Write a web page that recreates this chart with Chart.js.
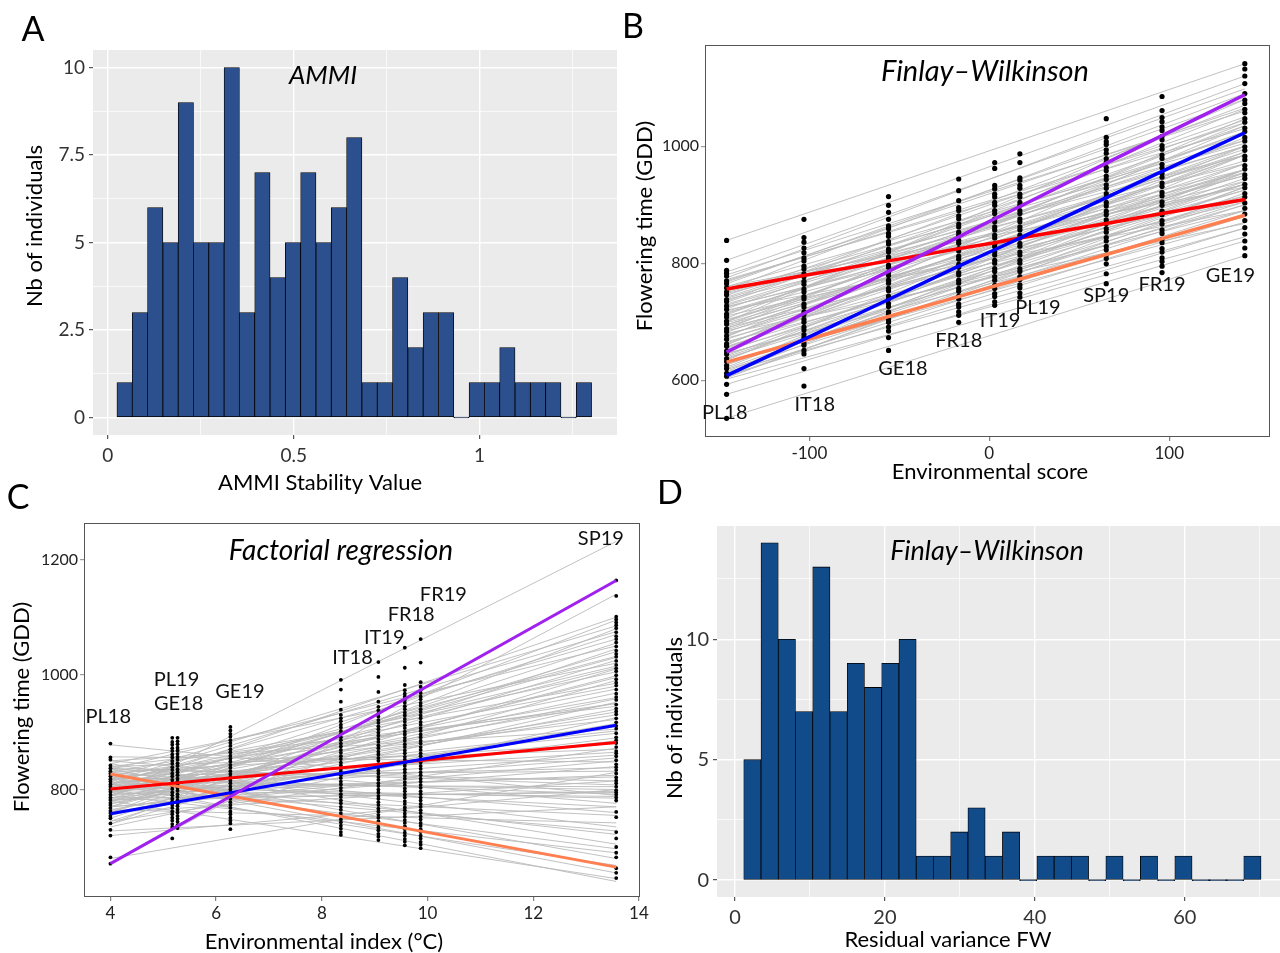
<!DOCTYPE html>
<html>
<head>
<meta charset="utf-8">
<script src="https://cdn.jsdelivr.net/npm/chart.js@4.4.1/dist/chart.umd.min.js"></script>
<style>
  html, body { margin: 0; padding: 0; background: #fff; }
  body { width: 1280px; height: 953px; position: relative; overflow: hidden; }
  canvas { position: absolute; }
</style>
</head>
<body>
<canvas id="chartA" width="620" height="500" style="left:0;top:0"></canvas>
<canvas id="chartB" width="660" height="490" style="left:620px;top:0"></canvas>
<canvas id="chartC" width="660" height="473" style="left:0;top:480px"></canvas>
<canvas id="chartD" width="640" height="473" style="left:640px;top:480px"></canvas>
<script>
// ---- A: AMMI stability histogram
const ammiBins = [0.045, 0.0862, 0.1274, 0.1686, 0.2098, 0.251, 0.2922, 0.3334, 0.3746, 0.4158, 0.457, 0.4982, 0.5394, 0.5806, 0.6218, 0.663, 0.7042, 0.7454, 0.7866, 0.8278, 0.869, 0.9102, 0.9514, 0.9926, 1.0338, 1.075, 1.1162, 1.1574, 1.1986, 1.2398, 1.281];
const ammiCounts = [1, 3, 6, 5, 9, 5, 5, 10, 3, 7, 4, 5, 7, 5, 6, 8, 1, 1, 4, 2, 3, 3, 0, 1, 1, 2, 1, 1, 1, 0, 1];
const ammiXTicks = [0, 0.25, 0.5, 0.75, 1, 1.25];
const ammiXLabels = ["0", "", "0.5", "", "1", ""];
const ammiYTicks = [0, 1.25, 2.5, 3.75, 5, 6.25, 7.5, 8.75, 10];
const ammiYLabels = ["0", "", "2.5", "", "5", "", "7.5", "", "10"];

// ---- B: Finlay-Wilkinson reaction norms
const envNamesB = ["PL18", "IT18", "GE18", "FR18", "IT19", "PL19", "SP19", "FR19", "GE19"];
const envScoreB = [-146, -103, -56, -17, 3, 17, 65, 96, 142];
const fwLabelX = [-147, -97, -48, -17, 6, 27, 65, 96, 134];
const fwLabelY = [544, 559, 620, 668, 702, 725, 745, 764, 779];
const fwStart = [839, 805, 785, 780, 775, 770, 765, 760, 755, 750, 745, 742, 738, 735, 730, 726, 722, 718, 714, 710, 706, 702, 698, 694, 690, 686, 682, 678, 674, 670, 666, 662, 658, 654, 650, 646, 642, 638, 634, 630, 626, 622, 618, 614, 610, 606, 602, 593, 576, 535, 760, 720, 700, 680, 740, 725, 695, 660, 645, 615,
    772, 768, 752, 748, 733, 728, 716, 712, 704, 700, 692, 688, 684, 676, 672, 664, 656, 652, 640, 636, 628, 620, 612, 608, 604];
const fwEnd = [1141, 1120, 1098, 1060, 1107, 1040, 1080, 1010, 1090, 985, 1050, 1020, 960, 1070, 1000, 940, 1035, 975, 1010, 915, 1063, 990, 950, 1025, 905, 970, 1000, 935, 1047, 960, 890, 985, 925, 1015, 945, 880, 970, 910, 1000, 870, 940, 985, 900, 860, 955, 920, 845, 860, 838, 813, 930, 890, 1080, 868, 1000, 955, 935, 1035, 900, 960,
    1030, 1065, 1005, 970, 1045, 985, 950, 1025, 935, 995, 960, 1040, 925, 985, 910, 955, 990, 915, 935, 960, 905, 930, 890, 880, 930];
const fwObs = [
  [535, 576, 593, 607, 612, 620, 625, 632, 637, 645, 650, 658, 662, 670, 676, 683, 688, 696, 701, 708, 713, 721, 727, 734, 738, 746, 751, 758, 765, 770, 778, 783, 788, 805, 839],
  [590, 620, 645, 651, 660, 664, 673, 678, 686, 691, 699, 704, 712, 717, 725, 730, 739, 743, 751, 756, 764, 769, 777, 782, 790, 795, 804, 809, 818, 826, 836, 844, 875],
  [651, 673, 684, 691, 699, 704, 713, 717, 726, 731, 739, 744, 753, 757, 766, 771, 779, 784, 793, 797, 806, 811, 819, 824, 833, 837, 846, 851, 859, 864, 875, 887, 899, 914],
  [699, 711, 717, 725, 730, 739, 744, 752, 757, 766, 771, 780, 784, 793, 798, 807, 812, 821, 825, 834, 839, 848, 853, 862, 867, 876, 881, 890, 895, 907, 924, 944],
  [728, 734, 743, 748, 757, 762, 771, 777, 786, 791, 800, 805, 814, 819, 828, 833, 843, 848, 857, 862, 871, 876, 885, 890, 899, 904, 913, 918, 927, 933, 962, 972],
  [742, 749, 758, 763, 772, 777, 786, 791, 800, 805, 814, 819, 829, 834, 843, 848, 857, 862, 871, 876, 885, 890, 899, 904, 913, 918, 928, 933, 942, 946, 972, 987],
  [765, 782, 799, 808, 814, 823, 829, 838, 844, 853, 859, 868, 874, 883, 889, 898, 904, 913, 919, 928, 934, 943, 949, 958, 964, 973, 979, 988, 994, 1003, 1008, 1015, 1047],
  [784, 795, 803, 809, 819, 825, 835, 841, 851, 857, 867, 873, 883, 889, 899, 905, 915, 921, 931, 937, 947, 953, 963, 969, 979, 985, 995, 1001, 1011, 1017, 1027, 1033, 1042, 1049, 1061, 1085],
  [813, 826, 838, 850, 861, 873, 884, 894, 903, 913, 919, 929, 935, 945, 951, 961, 967, 977, 983, 993, 999, 1009, 1015, 1025, 1031, 1041, 1047, 1057, 1063, 1073, 1079, 1090, 1107, 1120, 1132, 1141]
];
const fwRed = [756, 779, 804, 825, 835, 843, 868, 885, 909];
const fwBlue = [608, 670, 738, 795, 823, 843, 912, 957, 1023];
const fwPurple = [648, 714, 786, 845, 876, 897, 971, 1018, 1088];
const fwCoral = [631, 668, 709, 743, 761, 773, 815, 842, 882];

// ---- C: factorial regression
const envNamesC = ["PL18", "PL19", "GE18", "GE19", "IT18", "IT19", "FR18", "FR19", "SP19"];
const envIndexC = [4.0, 5.17, 5.27, 6.27, 8.36, 9.07, 9.57, 9.87, 13.57];
const frLabelX = [3.96, 5.25, 5.29, 6.45, 8.58, 9.18, 9.69, 10.3, 13.28];
const frLabelY = [927, 992, 949, 970, 1029, 1065, 1104, 1139, 1237];
const frStart = [787, 671, 800, 760, 820, 740, 790, 810, 770, 835, 750, 780, 800, 760, 845, 790, 815, 770, 740, 830, 800, 785, 810, 755, 840, 775, 795, 820, 765, 850, 805, 780, 830, 745, 812, 790, 857, 770, 825, 800, 760, 838, 815, 785, 878, 805, 830, 795, 820, 845, 810, 790, 835, 800, 820, 780, 810, 728, 720, 680, 745, 735, 815, 800,
    790, 805, 775, 815, 780, 825, 795, 760, 810, 785, 840, 800, 770, 818, 792, 835, 808, 782, 822, 798, 850, 812, 765, 838, 805];
const frEnd = [1232, 1140, 1100, 1095, 1085, 1080, 1070, 1062, 1055, 1050, 1045, 1040, 1032, 1025, 1020, 1012, 1005, 998, 990, 985, 975, 968, 960, 952, 945, 940, 930, 922, 915, 905, 898, 890, 880, 872, 865, 855, 848, 840, 832, 822, 815, 808, 800, 795, 790, 785, 760, 755, 722, 705, 697, 690, 680, 668, 655, 645, 640, 770, 800, 830, 1010, 925, 1075, 950,
    1030, 1015, 995, 980, 958, 950, 935, 910, 902, 885, 870, 860, 850, 838, 825, 815, 805, 797, 792, 788, 776, 770, 742, 735, 728];
const frObs = [
  [671, 682, 720, 730, 741, 750, 754, 759, 763, 768, 773, 777, 782, 786, 791, 796, 800, 805, 809, 814, 818, 823, 828, 832, 837, 842, 852, 856, 880],
  [715, 735, 740, 746, 751, 757, 762, 768, 773, 779, 784, 790, 795, 801, 806, 812, 817, 823, 828, 834, 839, 845, 850, 856, 861, 867, 872, 878, 883, 890],
  [733, 738, 744, 749, 754, 760, 765, 771, 776, 781, 787, 792, 798, 803, 808, 814, 819, 825, 830, 835, 841, 846, 852, 857, 862, 868, 873, 879, 884, 890],
  [731, 741, 746, 751, 757, 762, 768, 773, 778, 784, 789, 795, 800, 805, 811, 816, 822, 827, 832, 838, 843, 849, 854, 859, 865, 870, 876, 881, 886, 892, 897, 903, 909],
  [721, 726, 732, 737, 743, 748, 754, 759, 765, 770, 776, 781, 787, 792, 798, 803, 809, 814, 820, 825, 831, 836, 842, 847, 853, 858, 864, 869, 875, 880, 886, 891, 897, 902, 908, 913, 919, 924, 930, 939, 953, 974, 991],
  [712, 718, 723, 729, 734, 740, 745, 751, 756, 762, 767, 773, 778, 784, 789, 795, 800, 806, 811, 817, 822, 828, 833, 839, 844, 850, 855, 861, 866, 872, 877, 883, 888, 894, 899, 905, 910, 916, 921, 927, 932, 938, 944, 953, 970, 996, 1022],
  [703, 709, 714, 720, 725, 731, 736, 742, 747, 753, 758, 764, 769, 775, 780, 786, 791, 797, 802, 808, 813, 819, 824, 830, 835, 841, 846, 852, 857, 863, 868, 874, 879, 885, 890, 896, 901, 907, 912, 918, 923, 929, 934, 940, 945, 951, 956, 962, 967, 973, 982, 1012, 1047],
  [698, 704, 709, 715, 720, 726, 731, 737, 742, 748, 753, 759, 764, 770, 775, 781, 786, 792, 797, 803, 808, 814, 819, 825, 830, 836, 841, 847, 852, 858, 863, 869, 874, 880, 885, 891, 896, 902, 907, 913, 918, 924, 929, 935, 940, 946, 951, 957, 962, 968, 973, 979, 987, 1021, 1062],
  [646, 655, 663, 682, 690, 700, 715, 726, 752, 761, 781, 786, 791, 795, 799, 805, 811, 816, 821, 828, 834, 839, 844, 851, 858, 863, 867, 874, 881, 886, 891, 898, 906, 911, 917, 924, 931, 936, 941, 948, 956, 961, 967, 974, 981, 986, 992, 999, 1006, 1011, 1017, 1024, 1031, 1036, 1042, 1049, 1056, 1062, 1067, 1074, 1081, 1086, 1091, 1096, 1101, 1137, 1164]
];
const frEndsX = [4.0, 13.57];
const frRed = [801, 882];
const frBlue = [758, 912];
const frPurple = [671, 1164];
const frCoral = [827, 665];

// ---- D: residual variance histogram
const resBins = [2.32, 4.62, 6.92, 9.22, 11.52, 13.82, 16.12, 18.42, 20.72, 23.02, 25.32, 27.62, 29.92, 32.22, 34.52, 36.82, 39.12, 41.42, 43.72, 46.02, 48.32, 50.62, 52.92, 55.22, 57.52, 59.82, 62.12, 64.42, 66.72, 69.02];
const resCounts = [5, 14, 10, 7, 13, 7, 9, 8, 9, 10, 1, 1, 2, 3, 1, 2, 0, 1, 1, 1, 0, 1, 0, 1, 0, 1, 0, 0, 0, 1];
const resXTicks = [0, 10, 20, 30, 40, 50, 60, 70];
const resXLabels = ["0", "", "20", "", "40", "", "60", ""];
const resYTicks = [0, 2.5, 5, 7.5, 10, 12.5];
const resYLabels = ["0", "", "5", "", "10", ""];

Chart.defaults.font.family = "Lato, 'Open Sans', sans-serif";
Chart.defaults.color = "#333";
Chart.defaults.animation = false;
Chart.defaults.plugins.legend.display = false;
Chart.defaults.plugins.tooltip.enabled = false;

// panel background / frame and free text (letters, titles, env labels)
Chart.register({
    id: "panel",
    beforeDraw(chart, args, opts) {
        const a = chart.chartArea;
        if (opts.fill) {
            chart.ctx.save();
            chart.ctx.fillStyle = opts.fill;
            chart.ctx.fillRect(a.left, a.top, a.right - a.left, a.bottom - a.top);
            chart.ctx.restore();
        }
    },
    afterDraw(chart, args, opts) {
        const ctx = chart.ctx, a = chart.chartArea;
        if (opts.frame) {
            ctx.save();
            ctx.strokeStyle = opts.frame;
            ctx.lineWidth = 1;
            ctx.strokeRect(a.left + 0.5, a.top + 0.5, a.right - a.left - 1, a.bottom - a.top - 1);
            ctx.restore();
        }
        (opts.texts || []).forEach(t => {
            let x = t.x, y = t.y;
            if (t.data) {
                x = chart.scales.x.getPixelForValue(t.x);
                y = chart.scales.y.getPixelForValue(t.y);
            }
            ctx.save();
            ctx.font = t.font;
            ctx.fillStyle = t.color || "#000";
            ctx.textAlign = "center";
            ctx.textBaseline = "middle";
            ctx.translate(x, y);
            if (t.rot) ctx.rotate(t.rot);
            ctx.fillText(t.text, 0, 0);
            ctx.restore();
        });
    }
});

function axis(min, max, values, labels, o) {
    return {
        type: "linear", min: min, max: max, offset: false,
        afterBuildTicks: s => { s.ticks = values.map(v => ({ value: v })); },
        afterFit: s => {
            if (o.width) s.width = o.width;
            if (o.height) s.height = o.height;
        },
        border: { display: false },
        grid: {
            offset: false,
            drawOnChartArea: !!o.gridColor,
            color: o.gridColor || "rgba(0,0,0,0)",
            lineWidth: c => (labels[c.index] !== "" ? 1.4 : 0.7),
            tickLength: 4,
            tickWidth: 1,
            tickColor: c => (labels[c.index] !== "" ? o.tickColor : "rgba(0,0,0,0)")
        },
        ticks: {
            autoSkip: false, maxRotation: 0, minRotation: 0,
            padding: o.pad, color: o.labelColor,
            font: { size: o.fontSize },
            callback: (v, i) => labels[i]
        }
    };
}

const F = "Lato, 'Open Sans', sans-serif";
const UP = -Math.PI / 2;

// ===== A
new Chart(document.getElementById("chartA"), {
    type: "bar",
    data: {
        datasets: [{
            data: ammiBins.map((x, i) => ({ x: x, y: ammiCounts[i] })),
            backgroundColor: "#2C4F8D",
            borderColor: "#000",
            borderWidth: 0.8,
            borderSkipped: false,
            minBarLength: 1,
            barPercentage: 1,
            categoryPercentage: 1
        }]
    },
    options: {
        responsive: false,
        layout: { padding: { top: 50, right: 3, left: 0, bottom: 0 } },
        scales: {
            x: axis(-0.04, 1.37, ammiXTicks, ammiXLabels, { height: 65, gridColor: "#fff", tickColor: "#333", pad: 5, labelColor: "#333", fontSize: 19 }),
            y: axis(-0.5, 10.5, ammiYTicks, ammiYLabels, { width: 93, gridColor: "#fff", tickColor: "#333", pad: 4, labelColor: "#333", fontSize: 19 })
        },
        plugins: {
            panel: {
                fill: "#EBEBEB",
                texts: [
                    { text: "A", x: 33, y: 30, font: "34px " + F },
                    { text: "AMMI", x: 323, y: 76, font: "italic 26px " + F },
                    { text: "Nb of individuals", x: 35, y: 226, rot: UP, font: "22px " + F },
                    { text: "AMMI Stability Value", x: 320, y: 483, font: "22px " + F }
                ]
            }
        }
    }
});

// ===== B
const dsB = [];
[[fwPurple, "#A020F0"], [fwBlue, "#0000FF"], [fwRed, "#FF0000"], [fwCoral, "#FF7F50"]].forEach(([vals, col]) => {
    dsB.push({
        data: vals.map((v, i) => ({ x: envScoreB[i], y: v })),
        showLine: true, borderColor: col, borderWidth: 3.5, pointRadius: 0, order: 0
    });
});
fwObs.forEach((col, j) => {
    dsB.push({
        data: col.map(v => ({ x: envScoreB[j], y: v })),
        pointRadius: 2.6, pointBackgroundColor: "#000", pointBorderWidth: 0, order: 1
    });
});
fwStart.forEach((s, i) => {
    dsB.push({
        data: [{ x: envScoreB[0], y: s }, { x: envScoreB[envScoreB.length - 1], y: fwEnd[i] }],
        showLine: true, borderColor: "#BABABA", borderWidth: 0.9, pointRadius: 0, order: 2
    });
});

new Chart(document.getElementById("chartB"), {
    type: "scatter",
    data: { datasets: dsB },
    options: {
        responsive: false,
        layout: { padding: { top: 45, right: 10, left: 0, bottom: 0 } },
        scales: {
            x: axis(-158, 156, [-100, 0, 100], ["-100", "0", "100"], { height: 53, tickColor: "#666", pad: 2, labelColor: "#222", fontSize: 17 }),
            y: axis(503, 1173, [600, 800, 1000], ["600", "800", "1000"], { width: 85, tickColor: "#888", pad: 2, labelColor: "#222", fontSize: 16 })
        },
        plugins: {
            panel: {
                frame: "#555",
                texts: [
                    { text: "B", x: 13, y: 27, font: "34px " + F },
                    { text: "Finlay–Wilkinson", x: 365, y: 72, font: "italic 29px " + F },
                    { text: "Flowering time (GDD)", x: 25, y: 226, rot: UP, font: "22px " + F },
                    { text: "Environmental score", x: 370, y: 472, font: "22px " + F }
                ].concat(envNamesB.map((n, i) => ({ text: n, x: fwLabelX[i], y: fwLabelY[i], data: true, font: "20px " + F, color: "#111" })))
            }
        }
    }
});

// ===== C
const dsC = [];
[[frPurple, "#A020F0"], [frBlue, "#0000FF"], [frRed, "#FF0000"], [frCoral, "#FF7F50"]].forEach(([vals, col]) => {
    dsC.push({
        data: vals.map((v, i) => ({ x: frEndsX[i], y: v })),
        showLine: true, borderColor: col, borderWidth: 3, pointRadius: 0, order: 0
    });
});
frObs.forEach((col, j) => {
    dsC.push({
        data: col.map(v => ({ x: envIndexC[j], y: v })),
        pointRadius: 1.9, pointBackgroundColor: "#000", pointBorderWidth: 0, order: 1
    });
});
frStart.forEach((s, i) => {
    dsC.push({
        data: [{ x: frEndsX[0], y: s }, { x: frEndsX[1], y: frEnd[i] }],
        showLine: true, borderColor: "#BABABA", borderWidth: 0.9, pointRadius: 0, order: 2
    });
});

new Chart(document.getElementById("chartC"), {
    type: "scatter",
    data: { datasets: dsC },
    options: {
        responsive: false,
        layout: { padding: { top: 43, right: 20, left: 0, bottom: 0 } },
        scales: {
            x: axis(3.5, 14.02, [4, 6, 8, 10, 12, 14], ["4", "6", "8", "10", "12", "14"], { height: 56, tickColor: "#666", pad: 2, labelColor: "#222", fontSize: 17 }),
            y: axis(613, 1264, [800, 1000, 1200], ["800", "1000", "1200"], { width: 84, tickColor: "#888", pad: 2, labelColor: "#222", fontSize: 16 })
        },
        plugins: {
            panel: {
                frame: "#555",
                texts: [
                    { text: "C", x: 18, y: 18, font: "34px " + F },
                    { text: "Factorial regression", x: 341, y: 71, font: "italic 28px " + F },
                    { text: "Flowering time (GDD)", x: 22, y: 227, rot: UP, font: "22px " + F },
                    { text: "Environmental index (°C)", x: 324, y: 462, font: "22px " + F }
                ].concat(envNamesC.map((n, i) => ({ text: n, x: frLabelX[i], y: frLabelY[i], data: true, font: "20px " + F, color: "#111" })))
            }
        }
    }
});

// ===== D
new Chart(document.getElementById("chartD"), {
    type: "bar",
    data: {
        datasets: [{
            data: resBins.map((x, i) => ({ x: x, y: resCounts[i] })),
            backgroundColor: "#114B8A",
            borderColor: "#000",
            borderWidth: 0.8,
            borderSkipped: false,
            minBarLength: 1,
            barPercentage: 1,
            categoryPercentage: 1
        }]
    },
    options: {
        responsive: false,
        layout: { padding: { top: 46, right: 0, left: 0, bottom: 0 } },
        scales: {
            x: axis(-2.4, 72.7, resXTicks, resXLabels, { height: 56, gridColor: "#fff", tickColor: "#333", pad: 5, labelColor: "#333", fontSize: 20 }),
            y: axis(-0.7, 14.7, resYTicks, resYLabels, { width: 77, gridColor: "#fff", tickColor: "#333", pad: 4, labelColor: "#333", fontSize: 20 })
        },
        plugins: {
            panel: {
                fill: "#EBEBEB",
                texts: [
                    { text: "D", x: 30, y: 13, font: "34px " + F },
                    { text: "Finlay–Wilkinson", x: 347, y: 71, font: "italic 27px " + F },
                    { text: "Nb of individuals", x: 35, y: 238, rot: UP, font: "22px " + F },
                    { text: "Residual variance FW", x: 308, y: 460, font: "22px " + F }
                ]
            }
        }
    }
});
</script>
</body>
</html>
